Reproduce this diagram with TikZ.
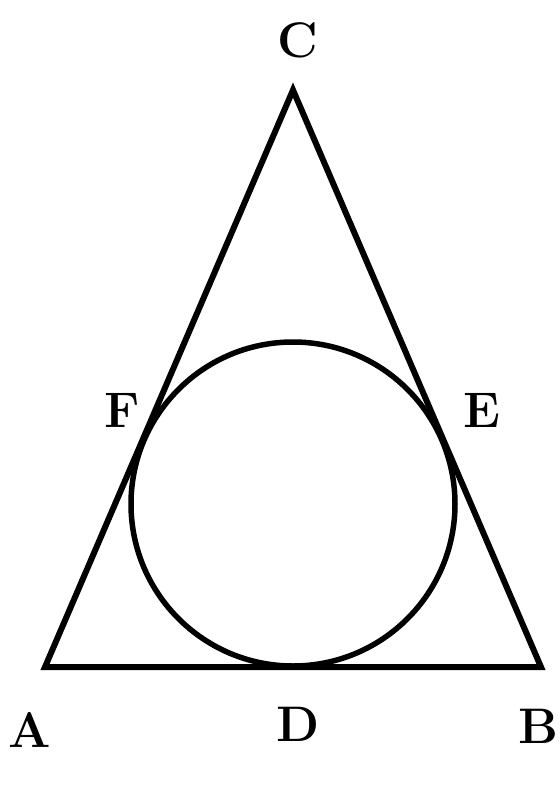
\documentclass[tikz,border=0pt]{standalone}
\begin{document}
\begin{tikzpicture}[x=1pt,y=-1pt,
  edge/.style={line width=6pt,line join=miter},
  lbl/.style={font=\fontsize{50}{50}\selectfont\bfseries,inner sep=0pt}]
\useasboundingbox (0,0) rectangle (560,804);
\coordinate (A) at (45,667);
\coordinate (B) at (541,667);
\coordinate (C) at (293,90);
\coordinate (O) at (293,504);
\draw[edge] (A) -- (B) -- (C) -- cycle;
\draw[line width=5.5pt] (O) circle[radius=162];
\node[lbl] (lC) at (298,40) {C};
\node[lbl] (lF) at (122,410) {F};
\node[lbl] (lE) at (482,410) {E};
\node[lbl] (lA) at (30,730) {A};
\node[lbl] (lD) at (298,724) {D};
\node[lbl] (lB) at (538,726) {B};
\end{tikzpicture}
\end{document}
